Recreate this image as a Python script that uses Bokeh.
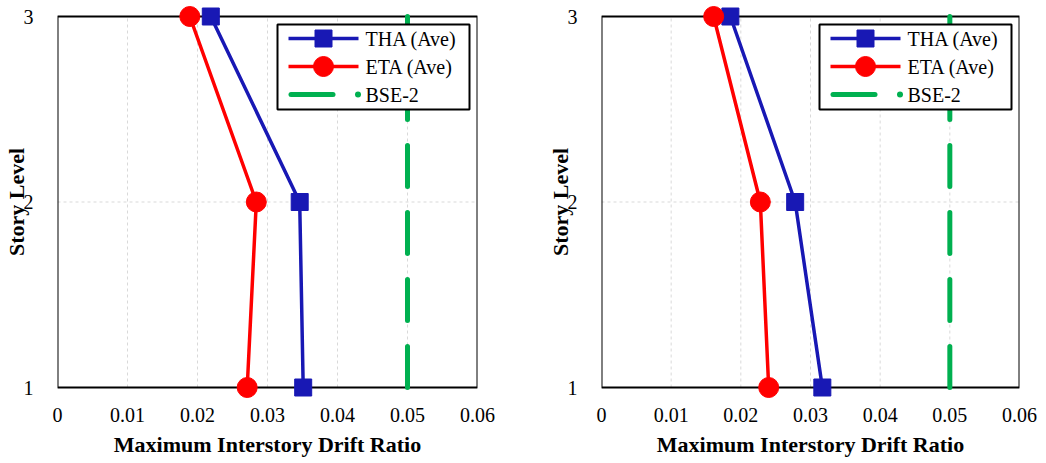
from bokeh.plotting import figure
from bokeh.layouts import row
from bokeh.models import FixedTicker, CustomJSTickFormatter, Range1d
from bokeh.core.properties import value
from bokeh.embed import file_html
from bokeh.resources import INLINE

stories = [1, 2, 3]
# Left panel
tha_left = [0.0351, 0.0346, 0.0219]
eta_left = [0.0271, 0.0284, 0.0189]
# Right panel
tha_right = [0.0317, 0.0278, 0.0185]
eta_right = [0.0240, 0.0228, 0.0161]
bse2 = 0.05
x_ticks = [0, 0.01, 0.02, 0.03, 0.04, 0.05, 0.06]
y_ticks = [1, 2, 3]
legend_labels = ["THA (Ave)", "ETA (Ave)", "BSE-2"]

BLUE = "#1818B4"
RED = "#FF0000"
GREEN = "#00B050"
FONT = "Liberation Serif"
FH = 371          # box height in px (story 1 -> story 3)
PAD = 12          # extra frame px above/below the box so markers are not clipped


def make_panel(tha, eta, fw, border_left, border_right):
    x0, x1 = x_ticks[0], x_ticks[-1]
    y0, y1 = y_ticks[0], y_ticks[-1]
    upp = (y1 - y0) / FH
    p = figure(frame_width=fw, frame_height=FH + 2 * PAD, output_backend="svg",
               toolbar_location=None,
               x_range=Range1d(x0, x1), y_range=Range1d(y0 - PAD * upp, y1 + PAD * upp),
               min_border_left=border_left, min_border_right=border_right,
               min_border_top=16 - PAD, min_border_bottom=76 - PAD)
    p.extra_x_ranges = {"px": Range1d(0, fw)}
    p.extra_y_ranges = {"px": Range1d(-PAD, FH + PAD)}
    p.outline_line_color = None
    p.background_fill_color = "white"
    p.border_fill_color = "white"
    p.grid.visible = False

    # gridlines
    gx = x_ticks[1:-1]
    p.segment(x0=gx, x1=gx, y0=[y0] * len(gx), y1=[y1] * len(gx),
              line_color="#d9d9d9", line_dash="3 3", line_width=1)
    gy = y_ticks[1:-1]
    p.segment(x0=[x0] * len(gy), x1=[x1] * len(gy), y0=gy, y1=gy,
              line_color="#d9d9d9", line_dash="3 3", line_width=1)
    # plot-area box
    p.quad(left=[x0], right=[x1], bottom=[y0], top=[y1], fill_color=None,
           line_color="black", line_width=2)

    p.line(tha, stories, line_color=BLUE, line_width=3.5)
    p.scatter(tha, stories, marker="square", size=17, fill_color=BLUE, line_color=BLUE)
    p.line(eta, stories, line_color=RED, line_width=3.5)
    p.scatter(eta, stories, marker="circle", size=20, fill_color=RED, line_color=RED)
    p.line([bse2, bse2], [stories[0], stories[-1]], line_color=GREEN, line_width=5,
           line_dash="41 26", line_cap="round")

    p.xaxis.ticker = FixedTicker(ticks=x_ticks)
    p.yaxis.ticker = FixedTicker(ticks=y_ticks)
    p.xaxis.formatter = CustomJSTickFormatter(code="return tick == 0 ? '0' : tick.toFixed(2);")
    for ax in (p.xaxis, p.yaxis):
        ax.axis_line_color = None
        ax.major_tick_line_color = None
        ax.minor_tick_line_color = None
        ax.major_label_text_font = FONT
        ax.major_label_text_font_size = "20px"
        ax.major_label_text_color = "black"
        ax.axis_label_text_font = FONT
        ax.axis_label_text_font_size = "22px"
        ax.axis_label_text_font_style = "bold"
        ax.axis_label_text_color = "black"
    p.xaxis.axis_label = "Maximum Interstory Drift Ratio"
    p.yaxis.axis_label = "Story Level"
    p.xaxis.major_label_standoff = 14 - PAD
    p.xaxis.axis_label_standoff = 7
    p.yaxis.major_label_standoff = 18
    p.yaxis.axis_label_standoff = -8

    # custom legend (box-pixel coordinates)
    bw, bh = 192, 85
    bl = fw - 8 - bw
    bt = FH - 8
    p.quad(left=[bl], right=[bl + bw], top=[bt], bottom=[bt - bh],
           fill_color="white", line_color="black", line_width=2,
           x_range_name="px", y_range_name="px")
    ys = [bt - 14, bt - 42, bt - 70]
    g0, g1 = bl + 11, bl + 81
    gm = (g0 + g1) / 2
    p.line([g0, g1], [ys[0], ys[0]], line_color=BLUE, line_width=3.5,
           x_range_name="px", y_range_name="px")
    p.scatter([gm], [ys[0]], marker="square", size=17, fill_color=BLUE, line_color=BLUE,
              x_range_name="px", y_range_name="px")
    p.line([g0, g1], [ys[1], ys[1]], line_color=RED, line_width=3.5,
           x_range_name="px", y_range_name="px")
    p.scatter([gm], [ys[1]], marker="circle", size=20, fill_color=RED, line_color=RED,
              x_range_name="px", y_range_name="px")
    p.line([g0 + 2.5, g0 + 44.5], [ys[2], ys[2]], line_color=GREEN, line_width=5,
           line_cap="round", x_range_name="px", y_range_name="px")
    p.scatter([g0 + 69.5], [ys[2]], marker="circle", size=6, fill_color=GREEN,
              line_color=None, x_range_name="px", y_range_name="px")
    p.text(x=[bl + 88] * 3, y=ys, text=legend_labels, text_font=value(FONT),
           text_font_size=value("20px"), text_color="black", text_baseline="middle",
           text_align="left", x_range_name="px", y_range_name="px")
    return p


left = make_panel(tha_left, eta_left, 420, 57, 43)
right = make_panel(tha_right, eta_right, 418, 81, 27)
layout = row(left, right, spacing=0)

open("out.html", "w").write(file_html(layout, INLINE))
